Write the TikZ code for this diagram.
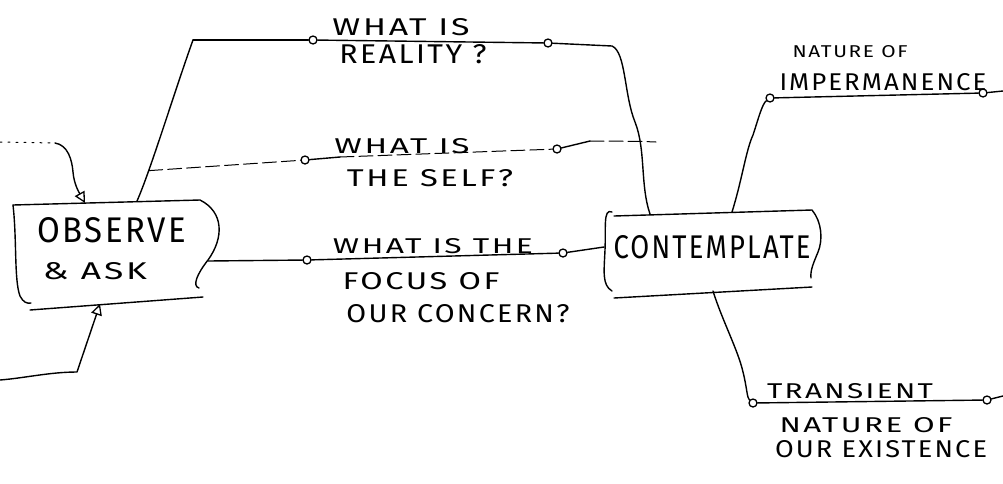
\documentclass[tikz,border=0pt]{standalone}
\usepackage{fontspec}
\newfontfamily\handfont[LetterSpace=8]{Fira Sans}
\usetikzlibrary{arrows.meta}
\newcommand{\hw}[3]{\resizebox{#1pt}{#2pt}{\handfont #3}}
\begin{document}
\begin{tikzpicture}[x=1pt,y=-1pt,
  line/.style={line width=1.4pt, line cap=round, line join=round},
  faint/.style={line width=1pt, dash pattern=on 14pt off 5pt, line cap=round},
  dotty/.style={line width=1pt, dash pattern=on 2pt off 6pt, line cap=round},
  knot/.style={circle, draw, line width=1.3pt, minimum size=8pt, inner sep=0pt, fill=white},
  lbl/.style={inner sep=0pt, anchor=center},
  inarrow/.style={-{Triangle[open,length=11pt,width=11pt,line width=1.3pt]}}
]
\fill[white] (0,0) rectangle (1003,483);
\useasboundingbox (0,0) rectangle (1003,483);

% ---------- OBSERVE & ASK box ----------
\draw[line] (13,205) -- (200,200) .. controls (224,212) and (224,238) .. (208,260)
  .. controls (197,274) and (192,286) .. (199,288);
\draw[line] (13,205) .. controls (17,240) and (14,280) .. (20,296)
  .. controls (23,302) and (27,304) .. (31,303);
\draw[line] (30,310) -- (203,297);
\node[lbl] (observe) at (112,230) {\hw{149}{25}{OBSERVE}};
\node[lbl] (ask) at (95,271) {\hw{104}{17}{\& ASK}};

\coordinate (obsTop) at (85,203);
\coordinate (obsBot) at (100,304);
\coordinate (obsRise) at (137,201);
\coordinate (obsRight) at (208,261);

% ---------- CONTEMPLATE box ----------
\draw[line] (612,212) .. controls (603,208) and (606,228) .. (605,250)
  .. controls (604,272) and (602,285) .. (612,291);
\draw[line] (614,216) -- (812,210) .. controls (822,222) and (823,240) .. (818,252)
  .. controls (814,262) and (810,270) .. (811,278);
\draw[line] (614,298) -- (812,287);
\node[lbl] (contemplate) at (712,247) {\hw{197}{23}{CONTEMPLATE}};

\coordinate (conTop) at (650,214);
\coordinate (conLeft) at (604,247);
\coordinate (conUp) at (732,212);
\coordinate (conDown) at (713,291);

% ---------- incoming arrows ----------
\coordinate (inTop) at (0,142);
\coordinate (inMid) at (55,143);
\coordinate (inBot) at (0,380);
\draw[dotty] (inTop) -- (inMid);
\draw[line,inarrow] (inMid) .. controls (68,145) and (72,160) .. (73,172)
  .. controls (74,185) and (80,194) .. (obsTop);
\draw[line,inarrow] (inBot) .. controls (25,378) and (50,372) .. (77,372) -- (obsBot);

% ---------- question knots ----------
\node[knot] (c1) at (313,40) {};
\node[knot] (c2) at (548,43) {};
\node[knot] (c3) at (305,160) {};
\node[knot] (c4) at (557,149) {};
\node[knot] (c5) at (307,260) {};
\node[knot] (c6) at (563,253) {};

\coordinate (corner) at (193,40);
\coordinate (selfA) at (340,157);
\coordinate (selfB) at (590,141);
\coordinate (selfEnd) at (656,142);

% rising line from OBSERVE to the top question
\draw[line] (obsRise) .. controls (150,172) and (175,90) .. coordinate[pos=0.25] (branch) (corner);
\draw[line] (corner) -- (c1);
\draw[line] (c1) -- (c2);
% descending line to CONTEMPLATE
\draw[line] (c2) -- (612,46) .. controls (626,52) and (624,95) .. (635,122)
  .. controls (646,150) and (640,185) .. coordinate[pos=0.22] (selfJoin) (conTop);

% self line
\draw[faint] (branch) -- (c3);
\draw[line] (c3) -- (selfA);
\draw[faint] (selfA) -- (c4);
\draw[line] (c4) -- (selfB);
\draw[faint] (selfB) -- (selfJoin) -- (selfEnd);

% focus line
\draw[line] (obsRight) -- (c5);
\draw[line] (c5) -- (c6);
\draw[line] (c6) -- (conLeft);

% question texts
\node[lbl] (q1a) at (401,27) {\hw{137}{17}{WHAT IS}};
\node[lbl] (q1b) at (413,54) {\hw{147}{19}{REALITY ?}};
\node[lbl] (q2a) at (402,146) {\hw{135}{15}{WHAT IS}};
\node[lbl] (q2b) at (430,178) {\hw{166}{17}{THE SELF?}};
\node[lbl] (q3a) at (433,246) {\hw{200}{15}{WHAT IS THE}};
\node[lbl] (q3b) at (421,281) {\hw{157}{17}{FOCUS OF}};
\node[lbl] (q3c) at (458,314) {\hw{223}{18}{OUR CONCERN?}};

% ---------- outcomes ----------
\node[knot] (c7) at (770,98) {};
\node[knot] (c8) at (983,93) {};
\node[knot] (c9) at (753,403) {};
\node[knot] (c10) at (987,400) {};
\coordinate (rEnd1) at (1003,91);
\coordinate (rEnd2) at (1003,396);

\draw[line] (conUp) .. controls (742,180) and (746,150) .. (753,135)
  .. controls (758,120) and (762,104) .. (c7);
\draw[line] (c7) -- (c8);
\draw[line] (c8) -- (rEnd1);
\draw[line] (conDown) .. controls (722,320) and (738,350) .. (743,372)
  .. controls (747,388) and (747,398) .. (c9);
\draw[line] (c9) -- (c10);
\draw[line] (c10) -- (rEnd2);

\node[lbl] (natA) at (850,52) {\hw{115}{12}{NATURE OF}};
\node[lbl] (imperm) at (883,82) {\hw{207}{17}{IMPERMANENCE}};
\node[lbl] (trans) at (850,391) {\hw{166}{15}{TRANSIENT}};
\node[lbl] (natB) at (866,425) {\hw{173}{15}{NATURE OF}};
\node[lbl] (exist) at (881,449) {\hw{212}{17}{OUR EXISTENCE}};
\end{tikzpicture}
\end{document}
